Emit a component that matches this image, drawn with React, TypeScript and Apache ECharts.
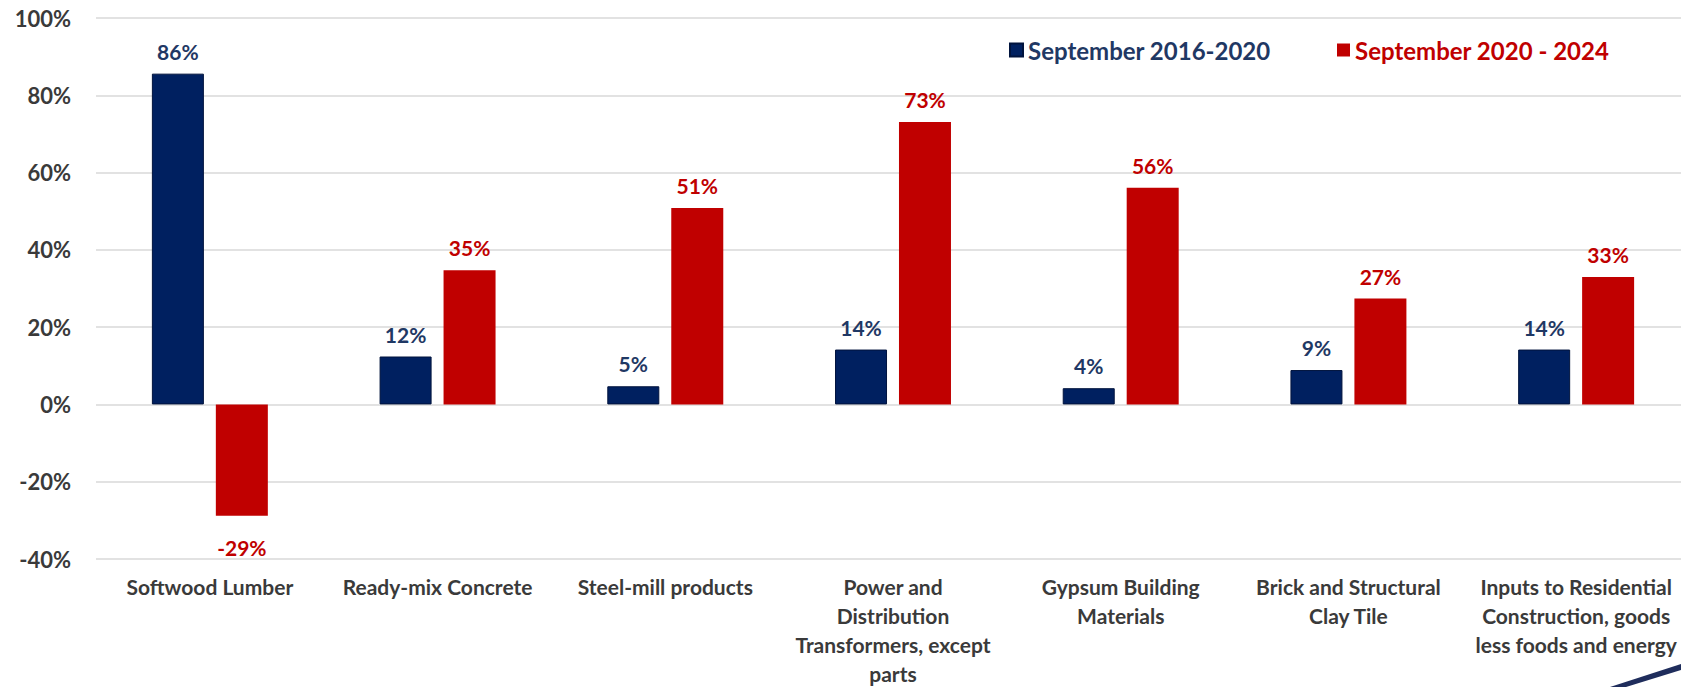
import React, { useEffect, useRef } from "react";
import * as echarts from "echarts";

const categories: string[] = [
  "Softwood Lumber",
  "Ready-mix Concrete",
  "Steel-mill products",
  "Power and\nDistribution\nTransformers, except\nparts",
  "Gypsum Building\nMaterials",
  "Brick and Structural\nClay Tile",
  "Inputs to Residential\nConstruction, goods\nless foods and energy",
];

const series1Name = "September 2016-2020";
const series2Name = "September 2020 - 2024";

const series1Values: number[] = [85.6, 12.4, 4.7, 14.2, 4.2, 8.9, 14.2];
const series2Values: number[] = [-28.8, 34.7, 50.8, 73.1, 56.1, 27.4, 33.0];

const yMin = -40;
const yMax = 100;
const yInterval = 20;

const NAVY = "#002060";
const RED = "#C00000";
const GRAY_TEXT = "#3a3a3a";
const FONT = "Lato, 'Open Sans', sans-serif";

function toData(values: number[], base: any) {
  return values.map((v) => ({
    value: v,
    label:
      v < 0
        ? { ...base, position: "bottom", distance: 21 }
        : { ...base, position: "top", distance: 12 },
  }));
}

export default function App() {
  const ref = useRef<HTMLDivElement>(null);

  useEffect(() => {
    document.body.style.margin = "0";
    if (!ref.current) return;
    const chart = echarts.init(ref.current, null, { renderer: "svg" });

    const labelBase = {
      show: true,
      fontFamily: FONT,
      fontWeight: "bold",
      fontSize: 21,
      formatter: (p: any) => Math.round(p.value) + "%",
    };

    const option: any = {
      animation: false,
      backgroundColor: "#ffffff",
      textStyle: { fontFamily: FONT },
      legend: [
        {
          left: 1004,
          top: 33,
          icon: "rect",
          itemWidth: 13,
          itemHeight: 13,
          data: [series1Name],
          textStyle: {
            color: "#1f3864",
            fontFamily: FONT,
            fontWeight: "bold",
            fontSize: 24,
          },
        },
        {
          left: 1332,
          top: 33,
          icon: "rect",
          itemWidth: 13,
          itemHeight: 13,
          data: [series2Name],
          textStyle: {
            color: RED,
            fontFamily: FONT,
            fontWeight: "bold",
            fontSize: 24,
          },
        },
      ],
      grid: {
        left: 96,
        width: 1594,
        top: 18,
        height: 541,
        containLabel: false,
        outerBoundsMode: "none",
      },
      xAxis: {
        type: "category",
        data: categories,
        axisLine: { show: false, onZero: false },
        axisTick: { show: false },
        axisLabel: {
          interval: 0,
          margin: 13,
          color: GRAY_TEXT,
          fontFamily: FONT,
          fontWeight: "bold",
          fontSize: 21,
          lineHeight: 29,
          align: "center",
          hideOverlap: false,
        },
      },
      yAxis: {
        type: "value",
        min: yMin,
        max: yMax,
        interval: yInterval,
        axisLine: { show: false },
        axisTick: { show: false },
        splitLine: { lineStyle: { color: "#d9d9d9", width: 1.5 } },
        axisLabel: {
          margin: 25,
          color: GRAY_TEXT,
          fontFamily: FONT,
          fontWeight: "bold",
          fontSize: 22,
          formatter: "{value}%",
        },
      },
      series: [
        {
          name: series1Name,
          type: "bar",
          barWidth: 52,
          barGap: "23%",
          itemStyle: { color: NAVY, borderColor: "#00133d", borderWidth: 1 },
          data: toData(series1Values, { ...labelBase, color: "#1f3864" }),
        },
        {
          name: series2Name,
          type: "bar",
          barWidth: 52,
          itemStyle: { color: RED },
          data: toData(series2Values, { ...labelBase, color: RED }),
        },
      ],
      graphic: [
        {
          type: "polygon",
          silent: true,
          shape: {
            points: [
              [1610, 687],
              [1681, 664],
              [1681, 670],
              [1626, 687],
            ],
          },
          style: { fill: "#1f2d5c" },
        },
      ],
    };

    chart.setOption(option);
    return () => {
      chart.dispose();
    };
  }, []);

  return <div ref={ref} style={{ width: 1681, height: 687 }} />;
}
